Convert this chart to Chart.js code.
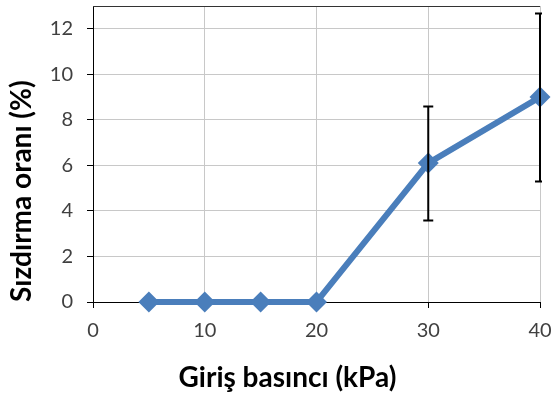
<!DOCTYPE html>
<html>
<head>
<meta charset="utf-8">
<script src="https://cdn.jsdelivr.net/npm/chart.js@4/dist/chart.umd.min.js"></script>
<style>
  html, body { margin: 0; padding: 0; background: #fff; }
  #wrap { width: 552px; height: 397px; position: relative; }
</style>
</head>
<body>
<div id="wrap"><canvas id="c"></canvas></div>
<script>
const pressures = [5, 10, 15, 20, 30, 40];
const leakRates = [0, 0, 0, 0, 6.1, 9.0];
const errLow = [null, null, null, null, 3.58, 5.29];
const errHigh = [null, null, null, null, 8.59, 12.67];
const xTickValues = [0, 10, 20, 30, 40];
const yTickValues = [0, 2, 4, 6, 8, 10, 12];
const xTitle = 'Giriş basıncı (kPa)';
const yTitle = 'Sızdırma oranı (%)';

const FONT = 'Lato, "Open Sans", sans-serif';
const TITLE_SIZE = 28;

const errorBarPlugin = {
  id: 'errorBars',
  afterDatasetsDraw(chart) {
    const ctx = chart.ctx;
    const xs = chart.scales.x, ys = chart.scales.y;
    const area = chart.chartArea;
    ctx.save();
    ctx.beginPath();
    ctx.rect(0, 0, area.right + 2, chart.height);
    ctx.clip();
    ctx.strokeStyle = '#000';
    ctx.lineWidth = 2;
    ctx.lineCap = 'butt';
    for (let i = 0; i < pressures.length; i++) {
      if (errLow[i] == null) continue;
      const x = xs.getPixelForValue(pressures[i]);
      const yl = ys.getPixelForValue(errLow[i]);
      const yh = ys.getPixelForValue(errHigh[i]);
      ctx.beginPath();
      ctx.moveTo(x, yl); ctx.lineTo(x, yh);
      ctx.moveTo(x - 5, yl); ctx.lineTo(x + 5, yl);
      ctx.moveTo(x - 5, yh); ctx.lineTo(x + 5, yh);
      ctx.stroke();
    }
    ctx.restore();
  }
};

const borderPlugin = {
  id: 'topBorder',
  beforeDatasetsDraw(chart) {
    const ctx = chart.ctx, a = chart.chartArea;
    ctx.save();
    ctx.strokeStyle = '#333';
    ctx.lineWidth = 1;
    ctx.beginPath();
    ctx.moveTo(a.left, a.top + 0.5);
    ctx.lineTo(a.right, a.top + 0.5);
    ctx.stroke();
    ctx.restore();
  }
};

const xTitlePlugin = {
  id: 'xTitle',
  afterDraw(chart) {
    const ctx = chart.ctx, a = chart.chartArea;
    ctx.save();
    ctx.fillStyle = '#000';
    ctx.font = 'bold ' + TITLE_SIZE + 'px ' + FONT;
    ctx.textAlign = 'center';
    ctx.textBaseline = 'alphabetic';
    ctx.fillText(xTitle, a.left + (a.right - a.left) * 0.435, 387);
    ctx.restore();
  }
};

new Chart(document.getElementById('c'), {
  type: 'line',
  data: {
    datasets: [{
      data: pressures.map((p, i) => ({ x: p, y: leakRates[i] })),
      borderColor: '#4a7ebb',
      backgroundColor: '#4a7ebb',
      borderWidth: 6,
      pointStyle: 'rectRot',
      pointRadius: 10.5,
      pointHoverRadius: 10.5,
      pointBorderWidth: 0,
      tension: 0,
      clip: false
    }]
  },
  options: {
    responsive: true,
    maintainAspectRatio: false,
    animation: false,
    events: [],
    layout: { autoPadding: false, padding: { left: 0, right: 12, top: 6, bottom: 0 } },
    plugins: { legend: { display: false }, tooltip: { enabled: false } },
    scales: {
      x: {
        type: 'linear',
        min: 0, max: 40,
        afterBuildTicks: s => { s.ticks = xTickValues.map(v => ({ value: v })); },
        afterFit: s => { s.height = 95; s.paddingLeft = 0; s.paddingRight = 0; },
        ticks: { color: '#404040', font: { family: FONT, size: 20 }, padding: 11, maxRotation: 0 },
        grid: { color: '#c8c8c8', lineWidth: 1, tickLength: 6, tickColor: '#000' },
        border: { color: '#000', width: 1 },
        title: { display: false }
      },
      y: {
        min: 0, max: 13,
        afterBuildTicks: s => { s.ticks = yTickValues.map(v => ({ value: v })); },
        afterFit: s => { s.width = 93; s.paddingTop = 0; s.paddingBottom = 0; },
        ticks: { color: '#404040', font: { family: FONT, size: 20 }, padding: 14 },
        grid: { color: '#c8c8c8', lineWidth: 1, tickLength: 6, tickColor: '#000' },
        border: { color: '#000', width: 1 },
        title: { display: true, text: yTitle, align: 'start', color: '#000', font: { family: FONT, size: TITLE_SIZE, weight: 'bold' }, padding: { top: 5, bottom: 0 } }
      }
    }
  },
  plugins: [borderPlugin, errorBarPlugin, xTitlePlugin]
});
</script>
</body>
</html>
